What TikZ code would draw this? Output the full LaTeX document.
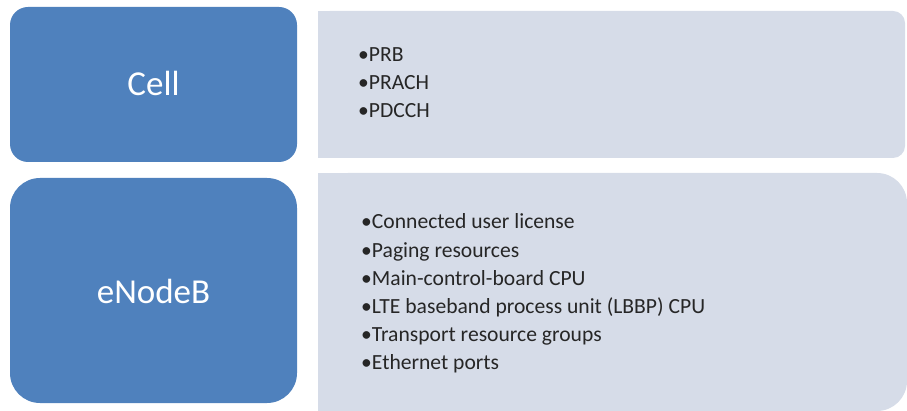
\documentclass[tikz,border=0pt]{standalone}
\usepackage{fontspec}
\setmainfont{Carlito}
\usepackage{tikz}
\usetikzlibrary{positioning}

\definecolor{catblue}{HTML}{4F81BD}
\definecolor{panelgray}{HTML}{D6DCE8}

\tikzset{
    catbox/.style={fill=catblue, text=white, font=\fontsize{35}{40}\selectfont},
    panel/.style={fill=panelgray},
    itemlist/.style={anchor=base west, align=left, inner sep=0pt, text=black!85,
        font=\fontsize{21.6}{28.2}\selectfont}
}

\begin{document}
\begin{tikzpicture}[x=1pt,y=-1pt]
    \useasboundingbox (0,0) rectangle (907,411);

    % left categories
    \fill[catbox, rounded corners=18pt] (10,7) rectangle (297,162);
    \fill[catbox, rounded corners=30pt] (10,178) rectangle (297,403);
    \node[catbox, fill=none] (cell) at (153.5,83) {Cell};
    \node[catbox, fill=none] (enb) at (153.5,291) {eNodeB};

    % right panels
    \fill[panel, rounded corners=12pt] (318,11) rectangle (905,158);
    \fill[panel] (318,11) rectangle (420,158);
    \fill[panel, rounded corners=30pt] (318,173) rectangle (907,411);
    \fill[panel] (318,173) rectangle (420,411);

    % base anchor sits on the last line
    \node[itemlist] (cellres) at (358,118) {•PRB\\•PRACH\\•PDCCH};
    \node[itemlist] (enbres) at (361,370) {•Connected user license\\
        •Paging resources\\
        •Main-control-board CPU\\
        •LTE baseband process unit (LBBP) CPU\\
        •Transport resource groups\\
        •Ethernet ports};
\end{tikzpicture}
\end{document}
